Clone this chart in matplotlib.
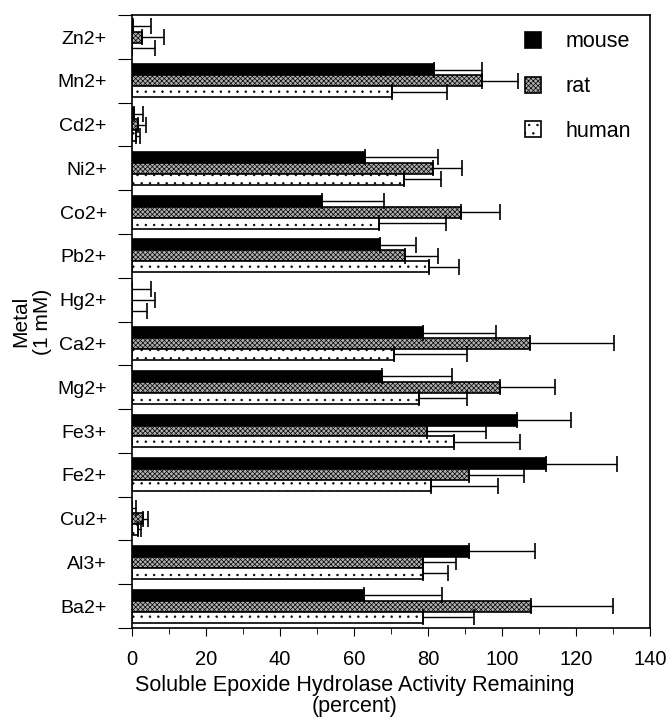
import matplotlib
matplotlib.use('Agg')
import matplotlib.pyplot as plt
import numpy as np
from matplotlib.ticker import MultipleLocator, FixedLocator

plt.rcParams['font.family'] = ['Liberation Sans', 'DejaVu Sans']
plt.rcParams['hatch.linewidth'] = 0.5

metals = ['Zn2+', 'Mn2+', 'Cd2+', 'Ni2+', 'Co2+', 'Pb2+', 'Hg2+',
          'Ca2+', 'Mg2+', 'Fe3+', 'Fe2+', 'Cu2+', 'Al3+', 'Ba2+']

# mean activity remaining (percent)
mouse = [0.3, 81.5, 0.5, 63.0, 51.3, 67.0, 0.0, 78.7, 67.7, 104.0, 111.8, 0.0, 91.2, 62.8]
rat = [2.8, 94.5, 1.7, 81.3, 88.8, 73.9, 0.0, 107.6, 99.5, 79.8, 91.1, 3.0, 78.7, 107.8]
human = [0.0, 70.4, 1.0, 73.5, 66.8, 80.3, 0.0, 70.9, 77.6, 87.1, 80.8, 1.7, 78.7, 78.7]

# top of the error bar (percent)
mouse_top = [5.1, 94.5, 3.0, 82.8, 68.1, 76.8, 5.3, 98.4, 86.6, 118.6, 131.0, 1.1, 109.0, 83.7]
rat_top = [8.6, 104.3, 3.7, 89.3, 99.6, 82.8, 6.2, 130.4, 114.3, 95.6, 105.9, 4.4, 87.6, 130.0]
human_top = [6.2, 85.2, 2.2, 83.4, 84.8, 88.4, 4.2, 90.6, 90.6, 104.9, 98.8, 2.6, 85.5, 92.5]

n = len(metals)
y = np.arange(n)[::-1].astype(float)   # Zn2+ on top
h = 0.25

fig = plt.figure(figsize=(6.66, 7.21), dpi=100)
ax = fig.add_axes([0.198, 0.129, 0.778, 0.850])

series = [
    (mouse, mouse_top, 'mouse', dict(facecolor='black', hatch=None), h),
    (rat, rat_top, 'rat', dict(facecolor='#b0b0b0', hatch='xxxxxxx'), 0),
    (human, human_top, 'human', dict(facecolor='white', hatch='..'), -h),
]
for vals, tops, lab, style, off in series:
    vals = np.array(vals)
    err = np.array(tops) - vals
    ax.barh(y + off, vals, height=h, edgecolor='black', linewidth=1.2,
            label=lab, **style)
    ax.errorbar(vals, y + off, xerr=[np.zeros(n), err], fmt='none',
                ecolor='black', elinewidth=1.0, capsize=5.5, capthick=1.2)

ax.set_xlim(0, 140)
ax.set_ylim(-0.5, n - 0.5)
ax.xaxis.set_major_locator(MultipleLocator(20))
ax.xaxis.set_minor_locator(MultipleLocator(10))
ax.tick_params(axis='x', which='major', direction='out', length=6, labelsize=14.5, pad=10)
ax.tick_params(axis='x', which='minor', direction='out', length=4)

# tick marks between groups, labels at group centres
ax.yaxis.set_major_locator(FixedLocator(np.arange(n + 1) - 0.5))
ax.yaxis.set_major_formatter(plt.NullFormatter())
ax.set_yticks(y, metals, minor=True)
ax.tick_params(axis='y', which='major', direction='out', length=10)
ax.tick_params(axis='y', which='minor', length=0, labelsize=14, pad=18)

for s in ax.spines.values():
    s.set_linewidth(1.2)

ax.set_xlabel('Soluble Epoxide Hydrolase Activity Remaining\n(percent)',
              fontsize=15.5, linespacing=1.0)
ax.xaxis.set_label_coords(0.43, -0.076)
ax.set_ylabel('Metal\n(1 mM)', fontsize=15, linespacing=1.15)

ax.legend(loc='upper right', frameon=False, fontsize=15.5, handlelength=0.75,
          handleheight=0.75, labelspacing=1.1, handletextpad=1.1,
          bbox_to_anchor=(1.0, 1.005))

plt.savefig('out.png', dpi=100)
